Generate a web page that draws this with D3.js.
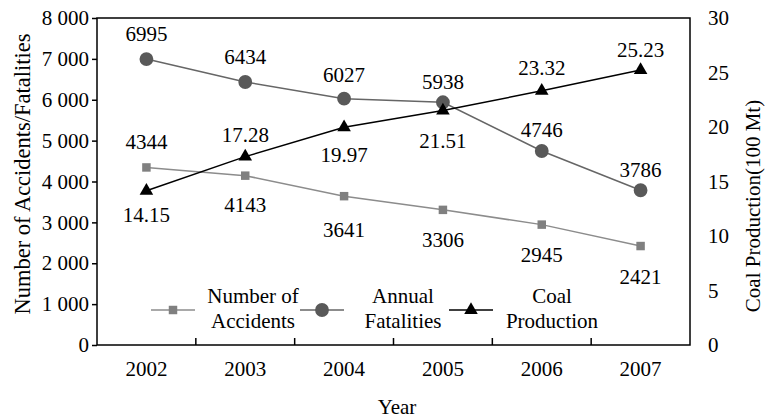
<!DOCTYPE html>
<html>
<head>
<meta charset="utf-8">
<script src="https://cdn.jsdelivr.net/npm/d3@7"></script>
<style>
  body { margin: 0; background: #fff; }
  svg text { font-family: "Liberation Serif", "Times New Roman", serif; fill: #000; }
</style>
</head>
<body>
<svg width="765" height="418"></svg>
<script>
// values
var years = ["2002", "2003", "2004", "2005", "2006", "2007"];
var accidents = [4344, 4143, 3641, 3306, 2945, 2421];
var fatalities = [6995, 6434, 6027, 5938, 4746, 3786];
var coal = [14.15, 17.28, 19.97, 21.51, 23.32, 25.23];
var leftTicks = [0, 1000, 2000, 3000, 4000, 5000, 6000, 7000, 8000];
var rightTicks = [0, 5, 10, 15, 20, 25, 30];

// label placement (vertical offsets from each point)
var accLabelDy = [-26, 29, 33, 30, 30, 31];
var fatLabelDy = [-25, -25, -24, -21, -21, -21];
var coalLabelDy = [24, -22, 27, 30, -23, -20];

function drawChart() {
    var svg = d3.select("svg");
    var pLeft = 97, pRight = 690, pTop = 18, pBottom = 345;
    var fs = 21;

    var x = d3.scaleBand().domain(years).range([pLeft, pRight]);
    var y = d3.scaleLinear().domain([0, 8000]).range([pBottom, pTop]);
    var y2 = d3.scaleLinear().domain([0, 30]).range([pBottom, pTop]);
    var cx = function (d, i) { return x(years[i]) + x.bandwidth() / 2; };

    // frame
    svg.append("rect")
        .attr("x", pLeft).attr("y", pTop)
        .attr("width", pRight - pLeft).attr("height", pBottom - pTop)
        .attr("fill", "none").attr("stroke", "#000").attr("stroke-width", 1.5);

    // left axis
    var yAxis = d3.axisLeft(y).tickValues(leftTicks).tickSize(5).tickPadding(3)
        .tickFormat(function (d) { return d3.format(",")(d).replace(",", " "); });
    var gy = svg.append("g").attr("transform", "translate(" + pLeft + ",0)").call(yAxis);
    gy.attr("font-family", null);
    gy.select(".domain").remove();
    gy.selectAll("line").attr("stroke", "#000").attr("stroke-width", 1.5);
    gy.selectAll("text").style("font-size", fs + "px");

    // right axis (labels only)
    var y2Axis = d3.axisRight(y2).tickValues(rightTicks).tickSize(0).tickPadding(18);
    var gy2 = svg.append("g").attr("transform", "translate(" + pRight + ",0)").call(y2Axis);
    gy2.attr("font-family", null);
    gy2.select(".domain").remove();
    gy2.selectAll("text").style("font-size", fs + "px");

    // x axis: inward ticks between categories
    var bounds = years.slice(1).map(function (d) { return x(d); });
    svg.append("g").selectAll("line").data(bounds).enter().append("line")
        .attr("x1", function (d) { return d; }).attr("x2", function (d) { return d; })
        .attr("y1", pBottom).attr("y2", pBottom - 7)
        .attr("stroke", "#000").attr("stroke-width", 1.5);
    svg.append("g").selectAll("text").data(years).enter().append("text")
        .attr("x", function (d) { return x(d) + x.bandwidth() / 2; })
        .attr("y", 376)
        .attr("text-anchor", "middle")
        .style("font-size", fs + "px")
        .text(function (d) { return d; });

    // axis titles
    svg.append("text").attr("x", 397).attr("y", 414).attr("text-anchor", "middle")
        .style("font-size", fs + "px").text("Year");
    svg.append("text").attr("transform", "translate(30,174) rotate(-90)").attr("text-anchor", "middle")
        .style("font-size", "22.5px").text("Number of Accidents/Fatalities");
    svg.append("text").attr("transform", "translate(760,206) rotate(-90)").attr("text-anchor", "middle")
        .style("font-size", fs + "px").text("Coal Production(100 Mt)");

    var sq = d3.symbol().type(d3.symbolSquare).size(72);
    var ci = d3.symbol().type(d3.symbolCircle).size(150);
    var tri = d3.symbol().type(d3.symbolTriangle).size(80);

    function drawSeries(vals, scale, lineColor, markColor, sym, dys) {
        var line = d3.line()
            .x(cx)
            .y(function (d) { return scale(d); });
        svg.append("path").datum(vals)
            .attr("d", line).attr("fill", "none")
            .attr("stroke", lineColor).attr("stroke-width", 1.5);
        svg.append("g").selectAll("path").data(vals).enter().append("path")
            .attr("d", sym)
            .attr("transform", function (d, i) { return "translate(" + cx(d, i) + "," + scale(d) + ")"; })
            .attr("fill", markColor);
        svg.append("g").selectAll("text").data(vals).enter().append("text")
            .attr("x", cx)
            .attr("y", function (d, i) { return scale(d) + dys[i]; })
            .attr("dy", "0.35em")
            .attr("text-anchor", "middle")
            .style("font-size", fs + "px")
            .text(function (d) { return d; });
    }

    drawSeries(accidents, y, "#8c8c8c", "#808080", sq, accLabelDy);
    drawSeries(fatalities, y, "#666666", "#595959", ci, fatLabelDy);
    drawSeries(coal, y2, "#000", "#000", tri, coalLabelDy);

    // legend
    var legend = [
        { name: ["Number of", "Accidents"], line: "#8c8c8c", mark: "#808080", sym: sq, x: 151, tx: 253 },
        { name: ["Annual", "Fatalities"], line: "#666666", mark: "#595959", sym: ci, x: 300, tx: 403 },
        { name: ["Coal", "Production"], line: "#000", mark: "#000", sym: tri, x: 449, tx: 552 }
    ];
    var lg = svg.append("g").selectAll("g").data(legend).enter().append("g");
    lg.append("line")
        .attr("x1", function (d) { return d.x; }).attr("x2", function (d) { return d.x + 44; })
        .attr("y1", 310).attr("y2", 310)
        .attr("stroke", function (d) { return d.line; }).attr("stroke-width", 1.5);
    lg.append("path")
        .attr("d", function (d) { return d.sym(); })
        .attr("transform", function (d) { return "translate(" + (d.x + 22) + ",310)"; })
        .attr("fill", function (d) { return d.mark; });
    lg.append("text")
        .attr("x", function (d) { return d.tx; }).attr("y", 303)
        .attr("text-anchor", "middle").style("font-size", fs + "px")
        .text(function (d) { return d.name[0]; });
    lg.append("text")
        .attr("x", function (d) { return d.tx; }).attr("y", 328)
        .attr("text-anchor", "middle").style("font-size", fs + "px")
        .text(function (d) { return d.name[1]; });
}

drawChart();
</script>
</body>
</html>
